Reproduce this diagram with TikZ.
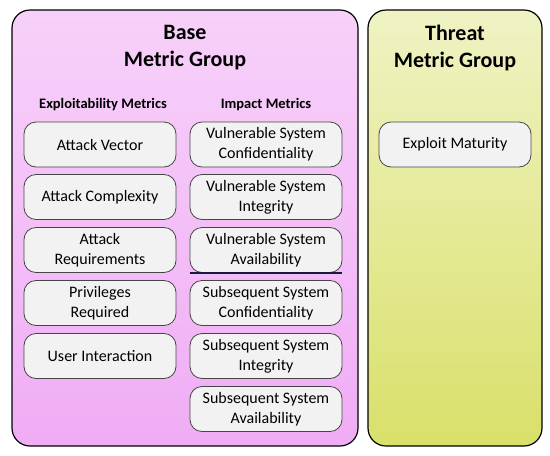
\documentclass[tikz,border=0pt]{standalone}
\usepackage{fontspec}
\setmainfont{Carlito}
\usepackage{xcolor}
\usepackage{tikz}
\usetikzlibrary{positioning}

\definecolor{basePink}{RGB}{240,172,245}
\definecolor{threatGreen}{RGB}{217,224,106}
\definecolor{boxFill}{RGB}{242,242,242}
\definecolor{boxLine}{RGB}{70,70,70}
\definecolor{sepLine}{RGB}{25,25,60}

\tikzset{
  groupbox/.style={draw=black, line width=1.2pt, rounded corners=18pt},
  metricbox/.style={draw=boxLine, line width=0.8pt, fill=boxFill, rounded corners=12pt,
    minimum width=152pt, minimum height=45pt, align=center, inner sep=1pt,
    font=\fontsize{16}{20}\selectfont},
  grouptitle/.style={align=center, font=\bfseries\fontsize{22}{27}\selectfont},
  colhead/.style={font=\bfseries\fontsize{14.5}{16}\selectfont}
}

\begin{document}
\begin{tikzpicture}[x=1pt, y=-1pt]
\useasboundingbox (0,0) rectangle (550,456);

% Gruppi
\shade[groupbox, top color=basePink!55, middle color=basePink, bottom color=basePink]
  (12,10) rectangle (358,446);
\shade[groupbox, top color=threatGreen!40, middle color=threatGreen, bottom color=threatGreen]
  (368,10) rectangle (542,446);

% Titoli
\node[grouptitle] (baseTitle) at (185,48) {Base\\Metric Group};
\node[grouptitle] (threatTitle) at (455,48) {Threat\\Metric Group};

% Colonne
\node[colhead] (exploitHead) at (103,105) {Exploitability Metrics};
\node[colhead] (impactHead) at (266,105) {Impact Metrics};

% Exploitability
\node[metricbox] (av) at (100,144.5) {Attack Vector};
\node[metricbox] (ac) at (100,197) {Attack Complexity};
\node[metricbox] (at) at (100,250) {Attack\\Requirements};
\node[metricbox] (pr) at (100,303) {Privileges\\Required};
\node[metricbox] (ui) at (100,356) {User Interaction};

% Impact
\node[metricbox] (vc) at (266,144.5) {Vulnerable System\\Confidentiality};
\node[metricbox] (vi) at (266,197) {Vulnerable System\\Integrity};
\node[metricbox] (va) at (266,250) {Vulnerable System\\Availability};
\node[metricbox] (sc) at (266,303) {Subsequent System\\Confidentiality};
\node[metricbox] (si) at (266,356) {Subsequent System\\Integrity};
\node[metricbox] (sa) at (266,409) {Subsequent System\\Availability};

% Separatore
\draw[sepLine, line width=1.3pt, yshift=-2.5pt] (va.south west) -- (va.south east);

% Threat
\node[metricbox] (em) at (455,144.5) {Exploit Maturity};

\end{tikzpicture}
\end{document}
